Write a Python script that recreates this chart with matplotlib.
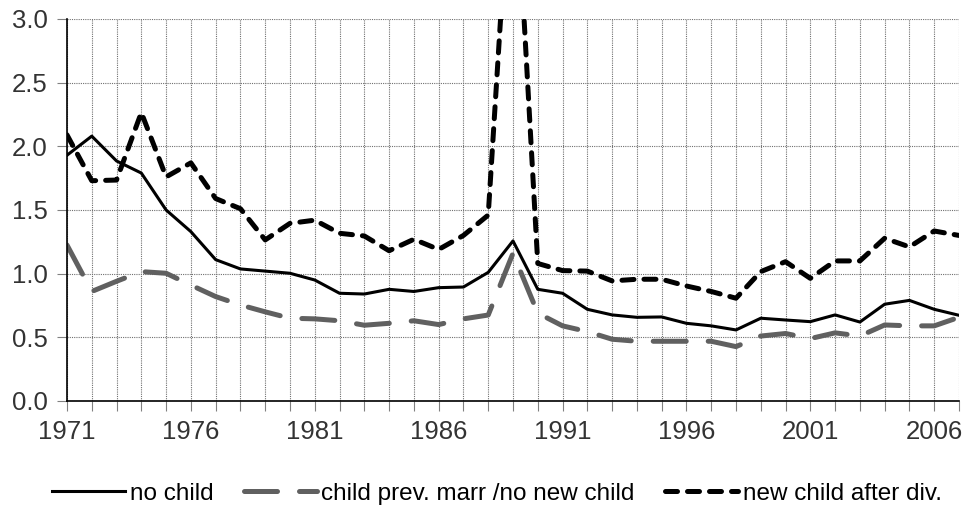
import numpy as np
import matplotlib.pyplot as plt

years = list(range(1971, 2008))

# values
no_child = [1.93, 2.08, 1.885, 1.79, 1.50, 1.33, 1.11, 1.037, 1.02, 1.003,
            0.95, 0.846, 0.84, 0.877, 0.86, 0.89, 0.895, 1.01, 1.257, 0.877,
            0.846, 0.72, 0.676, 0.657, 0.66, 0.61, 0.59, 0.558, 0.65, 0.636,
            0.623, 0.676, 0.62, 0.76, 0.79, 0.72, 0.673]
child_prev = [1.225, 0.86, 0.94, 1.016, 1.003, 0.91, 0.82, 0.754, 0.70, 0.65,
              0.645, 0.63, 0.595, 0.61, 0.63, 0.60, 0.645, 0.675, 1.16, 0.69,
              0.59, 0.545, 0.485, 0.469, 0.469, 0.469, 0.469, 0.427, 0.51, 0.53,
              0.49, 0.535, 0.51, 0.597, 0.59, 0.59, 0.657]
new_child = [2.09, 1.73, 1.735, 2.265, 1.76, 1.87, 1.59, 1.51, 1.265, 1.395,
             1.42, 1.317, 1.296, 1.18, 1.27, 1.19, 1.30, 1.46, 4.55, 1.08,
             1.024, 1.02, 0.943, 0.956, 0.956, 0.903, 0.86, 0.807, 1.016, 1.094,
             0.963, 1.10, 1.10, 1.278, 1.21, 1.335, 1.30]
labels = ['no child', 'child prev. marr /no new child', 'new child after div.']

plt.rcParams['font.family'] = ['Liberation Sans', 'DejaVu Sans']

fig = plt.figure(figsize=(9.68, 5.23), dpi=100)
ax = fig.add_axes([0.0692, 0.2333, 0.9215, 0.7304])

ax.plot(years, no_child, color='black', lw=2.2, label=labels[0])
ax.plot(years, child_prev, color='#606060', lw=3.6, dashes=(6.6, 4.4),
        dash_capstyle='round', label=labels[1])
ax.plot(years, new_child, color='black', lw=3.6, dashes=(2.4, 2.0),
        dash_capstyle='round', label=labels[2])

ax.set_xlim(1971, 2007)
ax.set_ylim(0, 3.0)
ax.set_xticks(years)
ax.set_xticklabels([str(y) if (y - 1971) % 5 == 0 else '' for y in years])
ax.set_yticks(np.arange(0, 3.01, 0.5))
ax.set_yticklabels([f'{v:.1f}' for v in np.arange(0, 3.01, 0.5)])

ax.grid(True, color='#707070', lw=0.8, linestyle=(0, (1, 1)))
ax.set_axisbelow(True)
for s in ['top', 'right']:
    ax.spines[s].set_visible(False)
for s in ['left', 'bottom']:
    ax.spines[s].set_color('black')
    ax.spines[s].set_linewidth(1.2)
ax.tick_params(axis='both', length=7, color='#808080', width=0.8,
               labelsize=18.5, labelcolor='#333333', pad=7)

ax.legend(loc='center', bbox_to_anchor=(0.482, -0.243), ncol=3,
          frameon=False, fontsize=17.5, handlelength=3.0, handletextpad=0.2,
          columnspacing=1.25, borderpad=0, borderaxespad=0)

fig.savefig('out.png', dpi=100)
